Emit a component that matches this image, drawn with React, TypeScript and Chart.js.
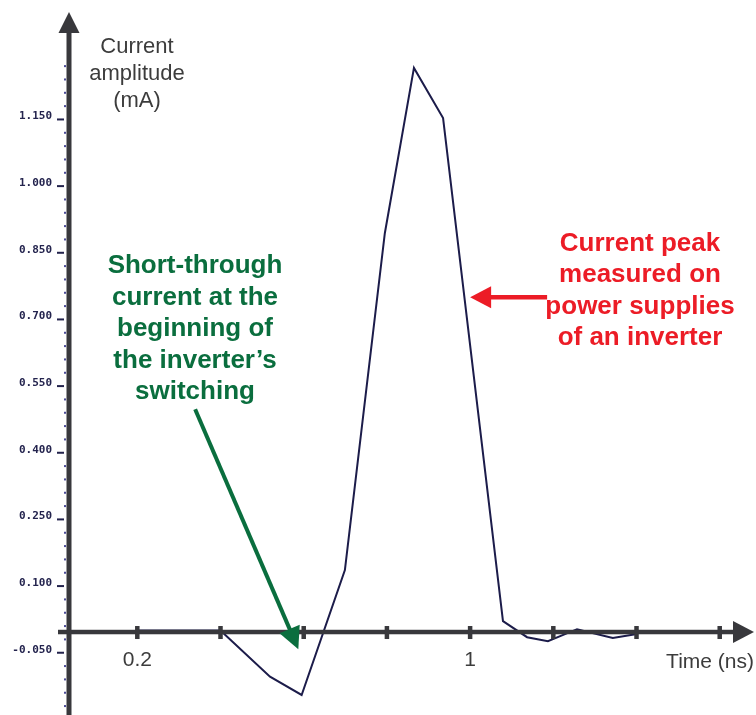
import { useEffect, useRef } from "react";
import { Chart, registerables } from "chart.js";

Chart.register(...registerables);

// Measured supply current of an inverter during one switching event
const TIME_NS = [0.2, 0.4, 0.519, 0.595, 0.699, 0.795, 0.865, 0.935, 1.079, 1.137, 1.187, 1.257, 1.343, 1.401];
const CURRENT_MA = [0, 0, -0.104, -0.145, 0.136, 0.894, 1.266, 1.153, 0.021, -0.015, -0.024, 0.003, -0.017, -0.008];

// Axis ticks
const X_TICKS = [0.2, 0.4, 0.6, 0.8, 1.0, 1.2, 1.4, 1.6];
const X_TICK_LABELS = ["0.2", "", "", "", "1", "", "", ""];
const Y_TICKS = [-0.05, 0.1, 0.25, 0.4, 0.55, 0.7, 0.85, 1.0, 1.15];
const Y_MINOR_STEP = 0.03;

// Visible ranges
const X_MIN = 0.0334;
const X_MAX = 1.6776;
const Y_MIN = -0.1901;
const Y_MAX = 1.3918;

// Annotation anchors (data units)
const PEAK_ARROW_TIP = { x: 1.0, y: 0.75 };
const SHORT_ARROW_TAIL = { x: 0.339, y: 0.498 };
const SHORT_ARROW_TIP = { x: 0.587, y: -0.042 };

const Y_TITLE = ["Current", "amplitude", "(mA)"];
const X_TITLE = "Time (ns)";
const PEAK_NOTE = ["Current peak", "measured on", "power supplies", "of an inverter"];
const SHORT_NOTE = ["Short-through", "current at the", "beginning of", "the inverter\u2019s", "switching"];

const AXIS_COLOR = "#38383c";
const TEXT_GRAY = "#3c3c3c";
const GREEN = "#0a6e3e";
const RED = "#ec1c26";
const SANS = '"Liberation Sans", Arial, Helvetica, sans-serif';

function arrow(
  ctx: CanvasRenderingContext2D,
  x0: number, y0: number, x1: number, y1: number,
  width: number, headLen: number, headHalf: number, color: string
) {
  const dx = x1 - x0;
  const dy = y1 - y0;
  const len = Math.hypot(dx, dy);
  const ux = dx / len;
  const uy = dy / len;
  const bx = x1 - ux * headLen;
  const by = y1 - uy * headLen;
  ctx.save();
  ctx.strokeStyle = color;
  ctx.fillStyle = color;
  ctx.lineWidth = width;
  ctx.lineCap = "butt";
  ctx.beginPath();
  ctx.moveTo(x0, y0);
  ctx.lineTo(bx + ux, by + uy);
  ctx.stroke();
  ctx.beginPath();
  ctx.moveTo(x1, y1);
  ctx.lineTo(bx - uy * headHalf, by + ux * headHalf);
  ctx.lineTo(bx + uy * headHalf, by - ux * headHalf);
  ctx.closePath();
  ctx.fill();
  ctx.restore();
}

const decorations = {
  id: "decorations",
  afterDatasetsDraw(chart: any) {
    const ctx: CanvasRenderingContext2D = chart.ctx;
    const xs = chart.scales.x;
    const ys = chart.scales.y;
    const area = chart.chartArea;
    const axisX = area.left + 1;
    const axisY = ys.getPixelForValue(0) + 1.5;

    ctx.save();
    ctx.fillStyle = AXIS_COLOR;
    // vertical axis with arrow head
    ctx.fillRect(axisX - 2.5, area.top + 19, 5, area.bottom - area.top);
    ctx.beginPath();
    ctx.moveTo(axisX, area.top);
    ctx.lineTo(axisX - 10.5, area.top + 21);
    ctx.lineTo(axisX + 10.5, area.top + 21);
    ctx.closePath();
    ctx.fill();
    // horizontal axis with arrow head
    ctx.fillRect(axisX - 11, axisY - 2.25, area.right - 19 - (axisX - 11), 4.5);
    ctx.beginPath();
    ctx.moveTo(area.right + 2, axisY);
    ctx.lineTo(area.right - 19, axisY - 11);
    ctx.lineTo(area.right - 19, axisY + 11);
    ctx.closePath();
    ctx.fill();
    // time ticks crossing the axis
    X_TICKS.forEach((v) => {
      const px = xs.getPixelForValue(v);
      ctx.fillRect(px - 2.25, axisY - 6, 4.5, 13);
    });
    // current ticks: short bars at labelled values, dots in between
    ctx.fillStyle = "#22224c";
    Y_TICKS.forEach((v) => {
      const py = ys.getPixelForValue(v);
      ctx.fillRect(57, py - 1, 7, 2);
    });
    ctx.fillStyle = "#4b4b96";
    for (let k = -4; k <= 44; k++) {
      if (k % 5 === 0) continue;
      const py = ys.getPixelForValue(Y_TICKS[0] + k * Y_MINOR_STEP);
      ctx.fillRect(64, py - 1, 2, 2);
    }

    // axis titles
    ctx.fillStyle = TEXT_GRAY;
    ctx.font = `22px ${SANS}`;
    ctx.textAlign = "center";
    ctx.textBaseline = "alphabetic";
    Y_TITLE.forEach((t, i) => ctx.fillText(t, 137, 53 + i * 27));
    ctx.font = `21px ${SANS}`;
    ctx.textAlign = "right";
    ctx.fillText(X_TITLE, area.right + 2, 668);

    // annotations
    ctx.font = `bold 26px ${SANS}`;
    ctx.textAlign = "center";
    ctx.fillStyle = GREEN;
    SHORT_NOTE.forEach((t, i) => ctx.fillText(t, 195, 273 + i * 31.5));
    ctx.fillStyle = RED;
    PEAK_NOTE.forEach((t, i) => ctx.fillText(t, 640, 251 + i * 31.3));
    ctx.restore();

    const rtX = xs.getPixelForValue(PEAK_ARROW_TIP.x);
    const rtY = ys.getPixelForValue(PEAK_ARROW_TIP.y);
    arrow(ctx, rtX + 77, rtY, rtX, rtY, 4.5, 21, 11, RED);
    arrow(
      ctx,
      xs.getPixelForValue(SHORT_ARROW_TAIL.x), ys.getPixelForValue(SHORT_ARROW_TAIL.y),
      xs.getPixelForValue(SHORT_ARROW_TIP.x), ys.getPixelForValue(SHORT_ARROW_TIP.y),
      4, 22, 11, GREEN
    );
  },
};

export default function App() {
  const canvasRef = useRef<HTMLCanvasElement | null>(null);

  useEffect(() => {
    const canvas = canvasRef.current;
    if (!canvas) return;
    const hiddenGrid = {
      display: true,
      color: "rgba(0,0,0,0)",
      drawOnChartArea: false,
      drawTicks: true,
    };
    const chart = new Chart(canvas, {
      type: "line",
      data: {
        datasets: [
          {
            data: TIME_NS.map((x, i) => ({ x, y: CURRENT_MA[i] })),
            borderColor: "#1c1c4a",
            borderWidth: 2,
            pointRadius: 0,
            tension: 0,
            fill: false,
          },
        ],
      },
      options: {
        responsive: false,
        animation: false,
        devicePixelRatio: 1,
        layout: { padding: { top: 12, right: 4, bottom: 0, left: 0 } },
        plugins: { legend: { display: false }, tooltip: { enabled: false } },
        scales: {
          x: {
            type: "linear",
            min: X_MIN,
            max: X_MAX,
            position: { y: 0 },
            grid: { ...hiddenGrid, tickLength: 17 },
            border: { display: false },
            ticks: {
              padding: 0,
              autoSkip: false,
              maxRotation: 0,
              color: TEXT_GRAY,
              font: { family: SANS, size: 21 },
              callback: (_v: any, i: number) => X_TICK_LABELS[i] ?? "",
            },
            afterBuildTicks: (s: any) => {
              s.ticks = X_TICKS.map((value) => ({ value }));
            },
            afterFit: (s: any) => {
              s.paddingLeft = 0;
              s.paddingRight = 0;
              s.paddingTop = 0;
              s.paddingBottom = 0;
            },
          },
          y: {
            type: "linear",
            min: Y_MIN,
            max: Y_MAX,
            position: "left",
            grid: { ...hiddenGrid, tickLength: 16 },
            border: { display: false },
            ticks: {
              padding: 0,
              labelOffset: -3,
              autoSkip: false,
              color: "#24244e",
              font: { family: '"DejaVu Sans Mono", monospace', size: 11, weight: "bold" },
              callback: (v: any) => Number(v).toFixed(3),
            },
            afterBuildTicks: (s: any) => {
              s.ticks = Y_TICKS.map((value) => ({ value }));
            },
            afterFit: (s: any) => {
              s.width = 68;
              s.paddingTop = 0;
              s.paddingBottom = 0;
            },
          },
        },
      } as any,
      plugins: [decorations],
    });
    return () => chart.destroy();
  }, []);

  return (
    <div style={{ position: "absolute", left: 0, top: 0, width: 756, height: 715, background: "#fff" }}>
      <canvas ref={canvasRef} width={756} height={715} style={{ display: "block" }} />
    </div>
  );
}
